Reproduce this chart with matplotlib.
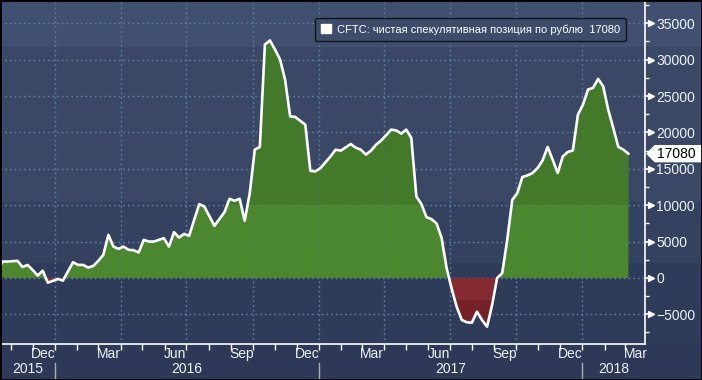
import matplotlib
matplotlib.use('Agg')
import matplotlib.pyplot as plt
import matplotlib.dates as mdates
from matplotlib.patches import Rectangle, Polygon, Patch
from matplotlib.ticker import MultipleLocator, NullFormatter
import numpy as np
import pandas as pd

plt.rcParams['font.family'] = ['Liberation Sans', 'DejaVu Sans']

# weekly CFTC net speculative position in RUB
start_date = '2015-10-13'
position = [700,
            2250, 2250, 2300, 2350, 1500, 1790, 1100, 320, 1000, -650,
            -410, -140, -370, 900, 2160, 1790, 1790, 1420, 1650, 2340,
            3170, 5920, 4310, 3990, 4310, 3860, 3810, 3490, 5230, 5000,
            5000, 5230, 5460, 4310, 6290, 5550, 6060, 5780, 8000, 10150,
            9820, 8500, 7160, 8100, 9050, 10880, 10600, 10880, 7850, 11660,
            17630, 18000, 32080, 32640, 31400, 30020, 27260, 22210, 22130, 21600,
            21070, 14730, 14640, 15100, 15900, 16700, 17630, 17490, 17940, 18410,
            17900, 17630, 16940, 17490, 18300, 18870, 19600, 20380, 20280, 19830,
            20380, 19240, 11200, 10150, 8360, 8080, 7500, 5500, 1330, -1500,
            -4000, -5780, -6100, -6150, -4640, -5780, -6700, -3720, 0, 650,
            5230, 10740, 11660, 13870, 14090, 14420, 15100, 16150, 18000, 16250,
            14420, 16700, 17310, 17530, 22450, 23820, 25890, 26120, 27360, 26340,
            23130, 20610, 18000, 17630, 17080]
legend_label = 'CFTC: чистая спекулятивная позиция по рублю  17080'
years = [2015, 2016, 2017, 2018]

dates = pd.date_range(start_date, periods=len(position), freq='7D')
x = mdates.date2num(dates)
y = np.array(position, dtype=float)

x_lo = mdates.date2num(pd.Timestamp('2015-10-16 18:00'))
x_hi = mdates.date2num(pd.Timestamp('2018-03-29'))

fig = plt.figure(figsize=(7.02, 3.80), dpi=100)
fig.patch.set_facecolor('#2d3956')

# banded background over the whole figure
bg = fig.add_axes([0, 0, 1, 1], zorder=-5)
bg.set_xlim(0, 702)
bg.set_ylim(380, 0)
bg.axis('off')
for y0, y1, c in [(0, 47, '#415071'), (47, 202, '#3a4866'), (202, 263, '#34425f'),
                  (263, 345, '#2f3c59'), (345, 380, '#2d3956')]:
    bg.axhspan(y0, y1, color=c, lw=0)

ax = fig.add_axes([0, 36 / 380, 645 / 702, 343 / 380])
ax.set_facecolor('none')
ax.set_xlim(x_lo, x_hi)
ax.set_ylim(-9082, 38065)

# fills
pos = ax.fill_between(x, 0, y, where=y >= 0, interpolate=True, color='#4a872e', lw=0, zorder=2)
pos_hi = ax.fill_between(x, 0, y, where=y >= 0, interpolate=True, color='#427a29', lw=0, zorder=2.1)
pos_hi.set_clip_path(Rectangle((x_lo, 10000), x_hi - x_lo, 40000, transform=ax.transData))
neg = ax.fill_between(x, 0, y, where=y <= 0, interpolate=True, color='#852a30', lw=0, zorder=2)
neg_lo = ax.fill_between(x, 0, y, where=y <= 0, interpolate=True, color='#742128', lw=0, zorder=2.1)
neg_lo.set_clip_path(Rectangle((x_lo, -20000), x_hi - x_lo, 17000, transform=ax.transData))

ax.plot(x, y, color='white', lw=1.9, zorder=4)

# grid
grid_kw = dict(color='#5d7fa0', lw=1.0, ls=(0, (1.2, 2.2)), zorder=1)
for v in range(-5000, 36000, 5000):
    ax.axhline(v, **grid_kw)
for yr in range(2016, 2019):
    for m in (1, 4, 7, 10):
        d = mdates.date2num(pd.Timestamp(yr, m, 1))
        if x_lo < d < x_hi:
            ax.axvline(d, **grid_kw)
            ax.axvline(d, color='#5d7fa0', lw=1.0, ls=(0, (1.2, 2.2)), alpha=0.25, zorder=3)
for v in range(0, 36000, 5000):
    ax.axhline(v, color='#5d7fa0', lw=1.0, ls=(0, (1.2, 2.2)), alpha=0.25, zorder=3)

for s in ['top', 'left']:
    ax.spines[s].set_visible(False)
for s in ['right', 'bottom']:
    ax.spines[s].set_color('white')
    ax.spines[s].set_linewidth(1.2)

# y axis on the right
ax.yaxis.tick_right()
ax.yaxis.set_major_locator(MultipleLocator(5000))
ax.yaxis.set_minor_locator(MultipleLocator(2500))
ax.tick_params(axis='y', which='major', colors='white', length=4, width=1.2, pad=4,
               labelsize=10, labelcolor='#eef1f6')
ax.tick_params(axis='y', which='minor', colors='white', length=3, width=1)
ax.set_yticks(range(-5000, 36000, 5000))
ax.plot(np.full(9, 1.0 + 6 / 645), range(-5000, 36000, 5000), marker='>', ls='none',
        ms=4, color='white', clip_on=False,
        transform=ax.get_yaxis_transform(), zorder=5)

# x axis: month ticks, quarter labels mid-month
ax.xaxis.set_major_locator(mdates.MonthLocator())
ax.xaxis.set_major_formatter(NullFormatter())
ax.xaxis.set_minor_locator(mdates.MonthLocator(bymonth=[3, 6, 9, 12], bymonthday=16))
ax.xaxis.set_minor_formatter(mdates.DateFormatter('%b'))
ax.tick_params(axis='x', which='major', colors='white', length=4, width=1)
ax.tick_params(axis='x', which='minor', length=0, pad=2, labelsize=10, labelcolor='#eef1f6')

# year row
trans = ax.get_xaxis_transform()
for yr in years:
    a = max(x_lo, mdates.date2num(pd.Timestamp(yr, 1, 1)))
    b = min(x_hi, mdates.date2num(pd.Timestamp(yr + 1, 1, 1)))
    ax.text((a + b) / 2, -0.072, str(yr), transform=trans, ha='center', va='center',
            color='#eef1f6', fontsize=10, clip_on=False)
    if yr > years[0]:
        ax.plot([a, a], [-0.055, -0.11], transform=trans, color='#a7afbf', lw=1,
                clip_on=False)

# legend
leg = ax.legend([Patch(facecolor='white', edgecolor='white')], [legend_label],
                loc='upper right', bbox_to_anchor=(0.9705, 0.950), borderaxespad=0,
                fontsize=8, labelcolor='white', facecolor='#3d4c6a', edgecolor='#101318',
                framealpha=1, fancybox=True, handlelength=0.9, handleheight=0.9,
                handletextpad=0.5, borderpad=0.55)
leg.get_frame().set_linewidth(1)

# last value tag
fig.canvas.draw()
yc = ax.transData.transform((x[-1], y[-1]))[1]
W, H = 702, 380
tag = Polygon([(647 / W, yc / H), (655 / W, (yc + 8) / H), (702 / W, (yc + 8) / H),
               (702 / W, (yc - 8) / H), (655 / W, (yc - 8) / H)], closed=True,
              transform=fig.transFigure, facecolor='white', edgecolor='white', zorder=10)
fig.patches.append(tag)
fig.text(676 / W, yc / H, f'{position[-1]}', ha='center', va='center', fontsize=10,
         color='black', zorder=11)

# outer border
fig.patches.append(Rectangle((0, 0), 1, 1, transform=fig.transFigure, fill=False,
                             edgecolor='black', lw=2, zorder=20))

fig.savefig('out.png', dpi=100, facecolor=fig.get_facecolor())
